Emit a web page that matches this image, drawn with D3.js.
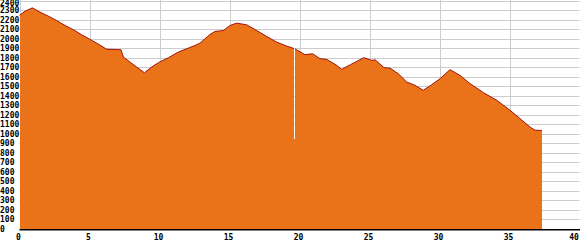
<!DOCTYPE html>
<html>
<head>
<meta charset="utf-8">
<script src="https://cdn.jsdelivr.net/npm/d3@7"></script>
<style>
  html, body { margin:0; padding:0; background:#fff; }
  svg { display:block; }
  .lbl { font-family:"DejaVu Sans Mono", monospace; font-weight:bold; font-size:8px; fill:#000; }
</style>
</head>
<body>
<script>
// Elevation profile: distance (km) vs altitude (m)
var distKm = [0, 0.4, 0.92, 1.46, 2.06, 2.65, 3.25, 3.85, 4.44, 5.04, 5.63, 6.23, 7.25, 7.42, 7.9, 8.37, 8.92,
              9.44, 9.92, 10.63, 11.34, 12.06, 12.54, 12.89, 13.61, 13.96, 14.56, 15.04, 15.51, 16.23, 16.94,
              17.66, 18.37, 19.09, 19.59, 19.6, 19.66, 19.67, 20.39, 20.94, 21.46, 21.94, 22.66, 23.01, 23.64,
              24.6, 25.16, 25.4, 26.04, 26.46, 27.06, 27.66, 28.25, 28.84, 29.44, 30.04, 30.75, 31.46, 32.18,
              33.13, 34.09, 35.04, 35.75, 36.46, 36.82, 37.3];
var elevM = [2245, 2288, 2323, 2278, 2236, 2190, 2138, 2093, 2040, 1991, 1942, 1888, 1883, 1806, 1753, 1701, 1642,
             1701, 1747, 1799, 1858, 1900, 1928, 1952, 2044, 2075, 2085, 2138, 2162, 2145, 2085,
             2022, 1963, 1921, 1897, 945, 945, 1893, 1831, 1841, 1789, 1782, 1719, 1677, 1726,
             1800, 1771, 1778, 1694, 1690, 1631, 1544, 1509, 1457, 1516, 1579, 1674, 1614, 1527,
             1433, 1352, 1247, 1160, 1072, 1038, 1035];
var xTicks = [0, 5, 10, 15, 20, 25, 30, 35, 40];
var yTicks = d3.range(0, 2401, 100);

var W = 580, H = 250;
var x = d3.scaleLinear().domain([0, 40]).range([19.5, 579.5]);
var y = d3.scaleLinear().domain([0, 2400]).range([229, 0.5]);

var pts = distKm.map(function(d, i){ return [d, elevM[i]]; });

var svg = d3.select("body").append("svg").attr("width", W).attr("height", H);

// grid
svg.append("g").selectAll("line").data(yTicks.filter(function(d){ return d > 0; }))
   .enter().append("line")
   .attr("x1", x(0)).attr("x2", x(40))
   .attr("y1", function(d){ return Math.round(y(d)) + 0.5; })
   .attr("y2", function(d){ return Math.round(y(d)) + 0.5; })
   .attr("stroke", "#cccccc").attr("stroke-width", 1);
svg.append("g").selectAll("line").data(xTicks)
   .enter().append("line")
   .attr("x1", function(d){ return Math.round(x(d)) + 0.5; })
   .attr("x2", function(d){ return Math.round(x(d)) + 0.5; })
   .attr("y1", 0).attr("y2", y(0))
   .attr("stroke", "#cccccc").attr("stroke-width", 1);

// profile fill
var area = d3.area().x(function(d){ return x(d[0]); })
                    .y0(y(0)).y1(function(d){ return y(d[1]); });
svg.append("path").datum(pts).attr("d", area)
   .attr("fill", "#ea731a").attr("shape-rendering", "crispEdges");

// profile outline (broken at the drop-out)
var line = d3.line().defined(function(d){ return d[1] > 1000; })
                    .x(function(d){ return x(d[0]); }).y(function(d){ return y(d[1]); });
svg.append("path").datum(pts).attr("d", line)
   .attr("fill", "none").attr("stroke", "#a3140c").attr("stroke-width", 1);

// bottom axis line
svg.append("line").attr("x1", x(0)).attr("x2", W).attr("y1", 229.75).attr("y2", 229.75)
   .attr("stroke", "#000").attr("stroke-width", 1.5);

// y labels
svg.append("g").selectAll("text").data(yTicks).enter().append("text")
   .attr("class", "lbl").attr("x", 0)
   .attr("y", function(d){ return Math.min(Math.max(y(d) + 3, 6), 233.5); })
   .text(function(d){ return d; });

// x labels
svg.append("g").selectAll("text").data(xTicks).enter().append("text")
   .attr("class", "lbl").attr("text-anchor", "middle")
   .attr("x", function(d){ return Math.min(x(d) - 1, 574); })
   .attr("y", 239.5)
   .text(function(d){ return d; });
</script>
</body>
</html>
